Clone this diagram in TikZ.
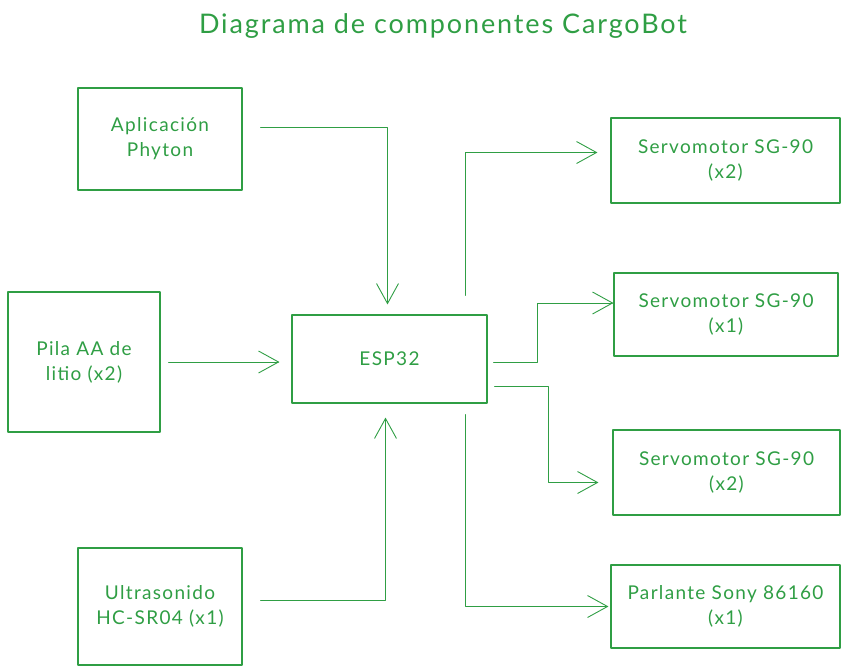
\documentclass[tikz,border=0pt]{standalone}
\usepackage{fontspec}
\setmainfont{Lato}[LetterSpace=7]
\usetikzlibrary{arrows.meta}
\definecolor{verde}{HTML}{2F9E44}
\begin{document}
\begin{tikzpicture}[x=1pt,y=-1pt, line join=round, line cap=round,
	caja/.style={draw=verde, line width=1.1pt, inner sep=0pt, align=center, text=verde, font=\fontsize{19}{25}\selectfont},
	flecha/.style={-{Straight Barb[length=20pt,width=22pt]}, line width=0.9pt, draw=verde}]
			\useasboundingbox (0,0) rectangle (849,672);
			\node[text=verde, font=\fontsize{27}{30}\selectfont] (titulo) at (443,26) {Diagrama de componentes CargoBot};
			% entradas
			\node[caja, minimum width=164, minimum height=102] (app) at (160,139) {Aplicación\\Phyton};
			\node[caja, minimum width=152, minimum height=140] (pila) at (84,362) {Pila AA de\\litio (x2)};
			\node[caja, minimum width=164, minimum height=117] (ultra) at (160,606.5) {Ultrasonido\\HC-SR04 (x1)};
			\node[caja, minimum width=195, minimum height=88] (esp) at (389.5,359) {ESP32};
			% salidas
			\node[caja, minimum width=229, minimum height=85] (servoA) at (725.5,160.5) {Servomotor SG-90\\(x2)};
			\node[caja, minimum width=224, minimum height=83] (servoB) at (726,314.5) {Servomotor SG-90\\(x1)};
			\node[caja, minimum width=227, minimum height=85] (servoC) at (726.5,472.5) {Servomotor SG-90\\(x2)};
			\node[caja, minimum width=229, minimum height=83] (parl) at (725.5,606.5) {Parlante Sony 86160\\(x1)};
			\draw[flecha, shorten <=18pt, shorten >=10pt] ([yshift=12pt]app.east) -| ([xshift=-2pt]esp.north);
			\draw[flecha, shorten <=8pt, shorten >=12pt] (pila.east) -- (pila.east -| esp.west);
			\draw[flecha, shorten <=18pt, shorten >=14pt] ([yshift=6pt]ultra.east) -| ([xshift=-4pt]esp.south);
			\draw[flecha, shorten <=19pt, shorten >=13pt] ([xshift=76pt]esp.north) |- ([yshift=8pt]servoA.west);
			\draw[flecha, shorten <=6pt] ([yshift=-3pt]esp.east) -- ++(50,0) |- ([yshift=11.5pt]servoB.west);
			\draw[flecha, shorten <=7pt, shorten >=14pt] ([yshift=-27pt]esp.east) -- ++(61,0) |- ([yshift=-10pt]servoC.west);
			\draw[flecha, shorten <=11pt, shorten >=2pt] ([xshift=76pt]esp.south) |- (parl.west);
		\end{tikzpicture}
\end{document}
